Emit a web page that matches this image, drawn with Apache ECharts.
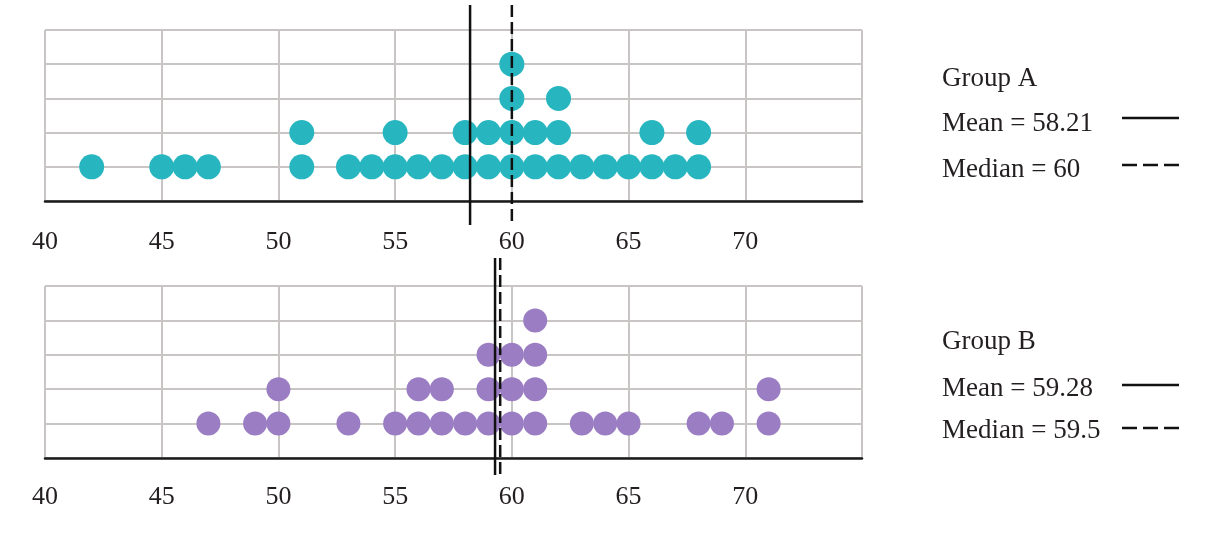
<!DOCTYPE html>
<html>
<head>
<meta charset="utf-8">
<script src="https://cdn.jsdelivr.net/npm/echarts@6/dist/echarts.min.js"></script>
<style>
html,body{margin:0;padding:0;background:#fff;}
#chart{width:1221px;height:537px;}
</style>
</head>
<body>
<div id="chart"></div>
<script>
// ---- data ----
const xTicks = [40, 45, 50, 55, 60, 65, 70];
const groupAValues = [42,45,46,47,51,51,53,54,55,55,56,57,58,58,59,59,60,60,60,60,61,61,62,62,62,63,64,65,66,66,67,68,68];
const groupBValues = [47,49,50,50,53,55,56,56,57,57,58,59,59,59,60,60,60,61,61,61,61,63,64,65,68,69,71,71];
const meanA = 58.21, medianA = 60;
const meanB = 59.28, medianB = 59.5;
const groupNames = ['Group A', 'Group B'];
const meanLabels = ['Mean = 58.21', 'Mean = 59.28'];
const medianLabels = ['Median = 60', 'Median = 59.5'];

// stack repeated values into dot-plot levels
function stackDots(values) {
  const counts = {};
  return values.map(v => {
    counts[v] = (counts[v] || 0) + 1;
    return [v, counts[v]];
  });
}

const FONT = 'Liberation Serif';
const TXT = '#231f20';
const GRID_GRAY = '#c9c5c5';

function xAxisFor(idx, margin) {
  return {
    type: 'value', gridIndex: idx, min: 40, max: 75, interval: 5,
    axisLine: {show: true, onZero: false, lineStyle: {color: '#1a1a1a', width: 2.5}},
    axisTick: {show: false},
    splitLine: {show: true, lineStyle: {color: GRID_GRAY, width: 2}},
    axisLabel: {
      margin: margin, fontFamily: FONT, fontSize: 26, color: TXT,
      formatter: v => (xTicks.indexOf(v) >= 0 ? String(v) : '')
    }
  };
}
function yAxisFor(idx) {
  return {
    type: 'value', gridIndex: idx, min: 0, max: 5, interval: 1,
    axisLine: {show: false}, axisTick: {show: false}, axisLabel: {show: false},
    splitLine: {show: true, lineStyle: {color: GRID_GRAY, width: 2}}
  };
}
function vline(idx, value, dashed, extTop, extBottom) {
  return {
    type: 'custom', xAxisIndex: idx, yAxisIndex: idx, z: 10, clip: false,
    data: [[value]],
    renderItem: function (params, api) {
      const x = api.value(0);
      const top = api.coord([x, 5]);
      const bot = api.coord([x, 0]);
      return {
        type: 'line',
        shape: {x1: top[0], y1: top[1] - extTop, x2: top[0], y2: bot[1] + extBottom},
        style: {stroke: '#111', lineWidth: 2.5, lineDash: dashed ? [12, 5] : null}
      };
    }
  };
}

const chart = echarts.init(document.getElementById('chart'), null, {renderer: 'canvas'});

const legendGraphics = [];
const textCenters = [[77, 122, 168], [340, 387, 429]];
const keyLines = [[118, 165], [385, 428]];
textCenters.forEach((ys, i) => {
  const font = '27px "Liberation Serif"';
  legendGraphics.push({type: 'text', left: 942, top: ys[0] - 12, style: {text: groupNames[i], font: font, fill: TXT}});
  legendGraphics.push({type: 'text', left: 942, top: ys[1] - 12, style: {text: meanLabels[i], font: font, fill: TXT}});
  legendGraphics.push({type: 'text', left: 942, top: ys[2] - 12, style: {text: medianLabels[i], font: font, fill: TXT}});
  legendGraphics.push({type: 'line', shape: {x1: 1122, y1: keyLines[i][0], x2: 1179, y2: keyLines[i][0]}, style: {stroke: '#111', lineWidth: 2.5}});
  legendGraphics.push({type: 'line', shape: {x1: 1122, y1: keyLines[i][1], x2: 1179, y2: keyLines[i][1]}, style: {stroke: '#111', lineWidth: 2.5, lineDash: [15, 6]}});
});

chart.setOption({
  animation: false,
  backgroundColor: '#fff',
  grid: [
    {left: 45, width: 817, top: 30, height: 171},
    {left: 45, width: 817, top: 286, height: 172}
  ],
  xAxis: [xAxisFor(0, 28), xAxisFor(1, 26)],
  yAxis: [yAxisFor(0), yAxisFor(1)],
  series: [
    {type: 'scatter', xAxisIndex: 0, yAxisIndex: 0, symbolSize: 25, z: 3,
     itemStyle: {color: '#27b6c0', opacity: 1}, data: stackDots(groupAValues)},
    {type: 'scatter', xAxisIndex: 1, yAxisIndex: 1, symbolSize: 24, z: 3,
     itemStyle: {color: '#9a7dc2', opacity: 1}, data: stackDots(groupBValues)},
    vline(0, meanA, false, 25, 24),
    vline(0, medianA, true, 25, 21),
    vline(1, meanB, false, 28, 17),
    vline(1, medianB, true, 28, 17)
  ],
  graphic: legendGraphics
});
</script>
</body>
</html>
